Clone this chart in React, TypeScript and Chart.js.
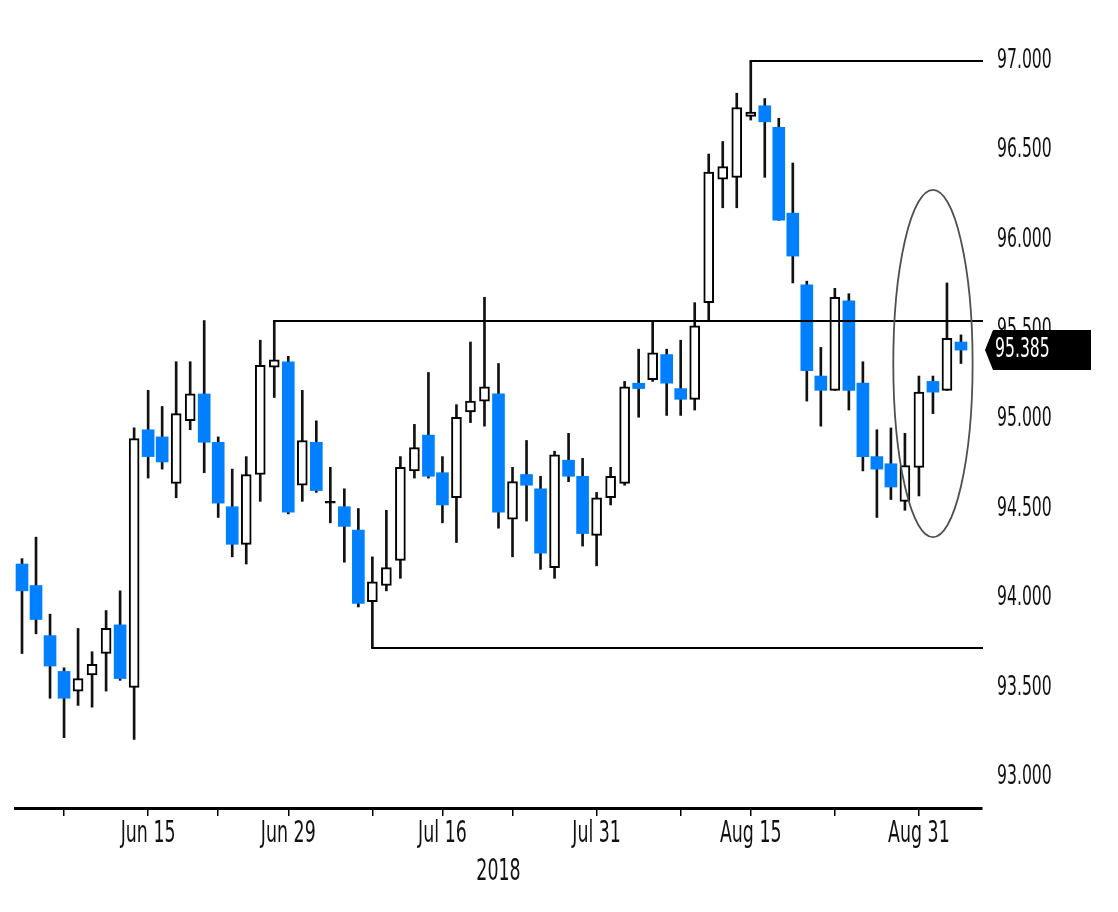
import React, { useEffect, useRef } from 'react';
import { Chart, registerables } from 'chart.js';

Chart.register(...registerables);

// ---- data -----------------------------------------------------------------
const categories = [
  'Jun 4', 'Jun 5', 'Jun 6', 'Jun 7', 'Jun 8',
  'Jun 11', 'Jun 12', 'Jun 13', 'Jun 14', 'Jun 15',
  'Jun 18', 'Jun 19', 'Jun 20', 'Jun 21', 'Jun 22',
  'Jun 25', 'Jun 26', 'Jun 27', 'Jun 28', 'Jun 29',
  'Jul 2', 'Jul 3', 'Jul 4', 'Jul 5', 'Jul 6',
  'Jul 9', 'Jul 10', 'Jul 11', 'Jul 12', 'Jul 13',
  'Jul 16', 'Jul 17', 'Jul 18', 'Jul 19', 'Jul 20',
  'Jul 23', 'Jul 24', 'Jul 25', 'Jul 26', 'Jul 27',
  'Jul 30', 'Jul 31', 'Aug 1', 'Aug 2', 'Aug 3',
  'Aug 6', 'Aug 7', 'Aug 8', 'Aug 9', 'Aug 10',
  'Aug 13', 'Aug 14', 'Aug 15', 'Aug 16', 'Aug 17',
  'Aug 20', 'Aug 21', 'Aug 22', 'Aug 23', 'Aug 24',
  'Aug 27', 'Aug 28', 'Aug 29', 'Aug 30', 'Aug 31',
  'Sep 3', 'Sep 4', 'Sep 5', 'Sep 6',
];

const opens = [
  94.19, 94.07, 93.79, 93.59, 93.48, 93.57, 93.69, 93.85, 93.50, 94.94,
  94.90, 94.64, 94.99, 95.14, 94.87, 94.51, 94.30, 94.69, 95.29, 95.32,
  94.63, 94.87, 94.53, 94.51, 94.38, 93.98, 94.07, 94.21, 94.71, 94.91,
  94.70, 94.56, 95.04, 95.10, 95.14, 94.44, 94.69, 94.61, 94.17, 94.77,
  94.68, 94.35, 94.56, 94.64, 95.20, 95.22, 95.36, 95.17, 95.11, 95.65,
  96.34, 96.35, 96.69, 96.75, 96.63, 96.15, 95.75, 95.24, 95.16, 95.66,
  95.20, 94.79, 94.75, 94.54, 94.73, 95.21, 95.16, 95.43,
];
const highs = [
  94.22, 94.34, 93.91, 93.61, 93.83, 93.70, 93.93, 94.04, 94.95, 95.16,
  95.07, 95.32, 95.32, 95.55, 94.90, 94.72, 94.79, 95.44, 95.55, 95.35,
  95.16, 94.99, 94.73, 94.61, 94.50, 94.23, 94.49, 94.79, 94.97, 95.26,
  94.79, 95.08, 95.43, 95.68, 95.31, 94.73, 94.88, 94.68, 94.82, 94.92,
  94.78, 94.59, 94.73, 95.21, 95.39, 95.55, 95.39, 95.44, 95.65, 96.48,
  96.55, 96.82, 97.00, 96.79, 96.68, 96.43, 95.77, 95.40, 95.73, 95.70,
  95.32, 94.94, 94.95, 94.92, 95.24, 95.24, 95.76, 95.47,
];
const lows = [
  93.69, 93.80, 93.44, 93.22, 93.40, 93.39, 93.48, 93.54, 93.21, 94.67,
  94.72, 94.56, 94.94, 94.70, 94.45, 94.23, 94.19, 94.54, 95.12, 94.47,
  94.54, 94.59, 94.42, 94.20, 93.95, 93.72, 94.04, 94.11, 94.67, 94.67,
  94.42, 94.31, 94.98, 94.96, 94.39, 94.23, 94.43, 94.16, 94.11, 94.65,
  94.29, 94.18, 94.52, 94.63, 95.01, 95.21, 95.02, 95.02, 95.05, 95.55,
  96.18, 96.18, 96.67, 96.35, 96.11, 95.76, 95.10, 94.96, 95.16, 95.05,
  94.71, 94.45, 94.55, 94.49, 94.57, 95.03, 95.16, 95.31,
];
const closes = [
  94.04, 93.88, 93.62, 93.44, 93.55, 93.63, 93.83, 93.55, 94.89, 94.79,
  94.76, 95.03, 95.14, 94.87, 94.53, 94.30, 94.69, 95.30, 95.33, 94.48,
  94.88, 94.60, 94.54, 94.40, 93.97, 94.09, 94.17, 94.73, 94.84, 94.68,
  94.52, 95.01, 95.10, 95.18, 94.48, 94.65, 94.63, 94.25, 94.80, 94.68,
  94.36, 94.56, 94.68, 95.18, 95.17, 95.37, 95.20, 95.11, 95.52, 96.38,
  96.41, 96.74, 96.715, 96.66, 96.11, 95.91, 95.27, 95.16, 95.68, 95.16,
  94.79, 94.72, 94.62, 94.74, 95.15, 95.15, 95.45, 95.385,
];

const yTickValues = [93.0, 93.5, 94.0, 94.5, 95.0, 95.5, 96.0, 96.5, 97.0];
const majorTickLabels = ['Jun 15', 'Jun 29', 'Jul 16', 'Jul 31', 'Aug 15', 'Aug 31'];
const minorTickDates = ['Jun 7', 'Jun 22', 'Jul 9', 'Jul 23', 'Aug 8', 'Aug 23'];
const yearLabel = '2018';

const levelValues = [97.0, 95.55, 93.72];
const levelStartDates = ['Aug 15', 'Jun 28', 'Jul 9'];

const ellipseCenterDate = 'Sep 3';
const ellipseCenterValue = 95.31;
const ellipseHalfSlots = 2.83;
const ellipseHalfRange = 0.97;

const lastPrice = 95.385;

const Y_MIN = 92.827;
const Y_MAX = 97.173;

// ---- styles ----------------------------------------------------------------
const FONT_FAMILY = "'DejaVu Sans', Verdana, sans-serif";
const TEXT_SQUEEZE = 0.58; // the reference font is tall and narrow
const BLUE = '#0080ff';

export default function App() {
  const canvasRef = useRef<HTMLCanvasElement | null>(null);

  useEffect(() => {
    const canvas = canvasRef.current;
    if (!canvas) return;
    const ctx = canvas.getContext('2d') as CanvasRenderingContext2D;
    const protoFill = CanvasRenderingContext2D.prototype.fillText;
    (ctx as any).fillText = function (text: string, x: number, y: number, maxWidth?: number) {
      ctx.save();
      ctx.translate(x, y);
      ctx.scale(TEXT_SQUEEZE, 1);
      if (maxWidth === undefined) protoFill.call(ctx, text, 0, 0);
      else protoFill.call(ctx, text, 0, 0, maxWidth / TEXT_SQUEEZE);
      ctx.restore();
    };

    const n = closes.length;
    const isUp = (i: number) => closes[i] >= opens[i];

    const upData = categories.map((_, i) => (i < n && isUp(i) ? [opens[i], closes[i]] : null));
    const downData = categories.map((_, i) => (i < n && !isUp(i) ? [opens[i], closes[i]] : null));
    const wickData = categories.map((_, i) => (i < n ? [lows[i], highs[i]] : null));
    const upFill = categories.map((_, i) =>
      i < n && Math.abs(closes[i] - opens[i]) < 0.02 ? '#000000' : '#ffffff'
    );

    const tickIdx = new Set<number>();
    categories.forEach((c, i) => {
      if (majorTickLabels.includes(c) || minorTickDates.includes(c)) tickIdx.add(i);
    });

    const overlayPlugin = {
      id: 'overlay',
      afterDatasetsDraw(chart: any) {
        const { ctx: c, chartArea, scales } = chart;
        const x = scales.x;
        const y = scales.y;
        c.save();
        c.strokeStyle = '#000';
        c.lineWidth = 2;
        levelValues.forEach((v, k) => {
          const xi = x.getPixelForValue(categories.indexOf(levelStartDates[k]));
          const yi = Math.round(y.getPixelForValue(v));
          c.beginPath();
          c.moveTo(xi - 1, yi);
          c.lineTo(chartArea.right + 1, yi);
          c.stroke();
        });
        const ci = categories.indexOf(ellipseCenterDate);
        const cx = x.getPixelForValue(ci);
        const rx = (x.getPixelForValue(ci + 1) - cx) * ellipseHalfSlots;
        const cy = y.getPixelForValue(ellipseCenterValue);
        const ry = Math.abs(y.getPixelForValue(ellipseCenterValue + ellipseHalfRange) - cy);
        c.strokeStyle = '#505050';
        c.lineWidth = 1.8;
        c.beginPath();
        c.ellipse(cx, cy, rx, ry, 0, 0, Math.PI * 2);
        c.stroke();
        c.restore();
      },
      afterDraw(chart: any) {
        const { ctx: c, chartArea, scales } = chart;
        const y = scales.y;
        const yy = y.getPixelForValue(lastPrice);
        const r = chartArea.right;
        c.save();
        c.fillStyle = '#000';
        c.beginPath();
        c.moveTo(r + 3, yy);
        c.lineTo(r + 11, yy - 20);
        c.lineTo(r + 109, yy - 20);
        c.lineTo(r + 109, yy + 20);
        c.lineTo(r + 11, yy + 20);
        c.closePath();
        c.fill();
        c.fillStyle = '#ffffff';
        c.font = `27px ${FONT_FAMILY}`;
        c.textAlign = 'left';
        c.textBaseline = 'middle';
        c.fillText(lastPrice.toFixed(3), r + 13, yy);
        c.restore();
      },
    };

    const yFont = { family: FONT_FAMILY, size: 27 };
    const xFont = { family: FONT_FAMILY, size: 30 };

    const chart = new Chart(ctx, {
      type: 'bar',
      data: {
        labels: categories,
        datasets: [
          {
            label: 'Up',
            data: upData as any,
            backgroundColor: upFill,
            borderColor: '#000000',
            borderWidth: 2,
            borderSkipped: false,
            barThickness: 10,
            grouped: false,
            order: 0,
          },
          {
            label: 'Down',
            data: downData as any,
            backgroundColor: BLUE,
            borderColor: BLUE,
            borderWidth: 0,
            borderSkipped: false,
            barThickness: 12,
            grouped: false,
            order: 1,
          },
          {
            label: 'Range',
            data: wickData as any,
            backgroundColor: '#111111',
            borderWidth: 0,
            barThickness: 2,
            grouped: false,
            order: 2,
          },
        ],
      },
      options: {
        responsive: false,
        animation: false,
        events: [],
        layout: { padding: { top: 22, left: 7, right: 0, bottom: 0 } },
        plugins: {
          legend: { display: false },
          tooltip: { enabled: false },
        },
        scales: {
          x: {
            type: 'category',
            offset: true,
            grid: {
              display: true,
              offset: false,
              drawOnChartArea: false,
              drawTicks: true,
              tickLength: 8,
              lineWidth: 1.5,
              color: (c: any) => (tickIdx.has(c.index) ? '#000000' : 'rgba(0,0,0,0)'),
            },
            border: { display: true, color: '#000000', width: 3 },
            ticks: {
              autoSkip: false,
              maxRotation: 0,
              minRotation: 0,
              padding: 0,
              color: '#111111',
              font: xFont,
              callback: (_v: any, i: number) =>
                majorTickLabels.includes(categories[i]) ? categories[i] : '',
            },
            title: {
              display: true,
              text: yearLabel,
              color: '#111111',
              font: xFont,
              padding: { top: 0, bottom: 14 },
            },
            afterFit: (s: any) => {
              s.height = 96;
              s.paddingLeft = 0;
              s.paddingRight = 0;
            },
          },
          y: {
            type: 'linear',
            position: 'right',
            min: Y_MIN,
            max: Y_MAX,
            grid: { display: false, drawTicks: false },
            border: { display: false },
            ticks: {
              padding: 15,
              color: '#111111',
              font: yFont,
              callback: (v: any) => Number(v).toFixed(3),
            },
            afterBuildTicks: (s: any) => {
              s.ticks = yTickValues.map((v) => ({ value: v }));
            },
            afterFit: (s: any) => {
              s.width = 128;
              s.paddingTop = 0;
              s.paddingBottom = 0;
            },
          },
        },
      },
      plugins: [overlayPlugin],
    });

    return () => {
      chart.destroy();
      delete (ctx as any).fillText;
    };
  }, []);

  return (
    <div style={{ width: 1102, height: 896, background: '#ffffff' }}>
      <canvas ref={canvasRef} width={1102} height={896} style={{ display: 'block', width: 1102, height: 896 }} />
    </div>
  );
}
